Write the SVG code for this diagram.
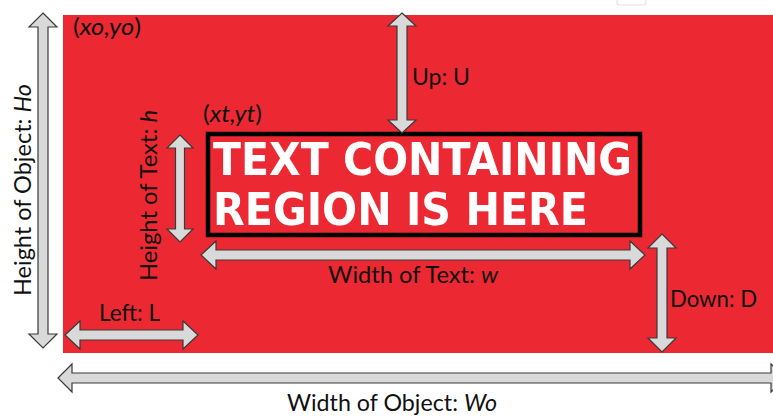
<svg xmlns="http://www.w3.org/2000/svg" width="773" height="416" viewBox="0 0 773 416">
  <style>
    .lbl { font-family: Lato, "Liberation Sans", sans-serif; font-size: 23px; fill: #111; }
    .it { font-style: italic; }
    .arrow { fill: #d9d9d9; stroke: #3a3a3a; stroke-width: 1.2; stroke-linejoin: miter; }
    .big { font-family: "DejaVu Sans", Verdana, sans-serif; font-weight: bold; font-size: 44px; fill: #ffffff; }
  </style>
  <defs>
    <filter id="glow" x="-5%" y="-20%" width="110%" height="140%">
      <feGaussianBlur stdDeviation="0.6"/>
    </filter>
  </defs>

  <rect width="773" height="416" fill="#ffffff"/>
  <!-- small tab at top edge -->
  <rect x="617" y="-4" width="29" height="9" rx="2" fill="none" stroke="#e2e2e2" stroke-width="1.2"/>

  <!-- object region -->
  <g id="object">
    <rect x="63" y="15" width="712" height="338" fill="#ec2832"/>
    <text class="lbl" x="73" y="35" textLength="68" lengthAdjust="spacingAndGlyphs">(<tspan class="it">xo,yo</tspan>)</text>
  </g>

  <!-- text-containing region -->
  <g id="text-region">
    <rect x="208" y="134" width="432" height="101" fill="none" stroke="#000" stroke-width="4.5"/>
    <g filter="url(#glow)">
      <text class="big" x="213" y="175" textLength="419" lengthAdjust="spacingAndGlyphs">TEXT CONTAINING</text>
      <text class="big" x="213" y="225" textLength="375" lengthAdjust="spacingAndGlyphs">REGION IS HERE</text>
    </g>
    <text class="lbl" x="203" y="122" textLength="59" lengthAdjust="spacingAndGlyphs">(<tspan class="it">xt,yt</tspan>)</text>
  </g>

  <!-- dimension arrows -->
  <g id="connectors">
    <!-- Ho: vertical, x=43, y 13..348 -->
    <polygon id="arrow-ho" class="arrow" points="43,13 57,27 48,27 48,334 57,334 43,348 29,334 38,334 38,27 29,27"/>
    <!-- Up: vertical, x=402, y 13..133 -->
    <polygon id="arrow-up" class="arrow" points="402,13 416,26 407,26 407,120 416,120 402,133 388,120 397,120 397,26 388,26"/>
    <!-- h: vertical, x=180, y 135..242 -->
    <polygon id="arrow-h" class="arrow" points="180,135 193,148 184.5,148 184.5,229 193,229 180,242 167,229 175.5,229 175.5,148 167,148"/>
    <!-- w: horizontal, y=255, x 201..645 -->
    <polygon id="arrow-w" class="arrow" points="201,255 216,241 216,250 630,250 630,241 645,255 630,269 630,260 216,260 216,269"/>
    <!-- D: vertical, x=662, y 234..352 -->
    <polygon id="arrow-d" class="arrow" points="662,234 676,248 667,248 667,338 676,338 662,352 648,338 657,338 657,248 648,248"/>
    <!-- L: horizontal, y=335, x 65..198 -->
    <polygon id="arrow-l" class="arrow" points="65,335 80,321 80,330 183,330 183,321 198,335 183,349 183,340 80,340 80,349"/>
    <!-- Wo: horizontal, y=378, x 58..786 -->
    <polygon id="arrow-wo" class="arrow" points="58,378 72,364 72,373 771,373 771,364 786,378 771,392 771,383 72,383 72,392"/>
  </g>

  <!-- dimension labels -->
  <g id="labels">
    <text class="lbl" x="412" y="85" textLength="58" lengthAdjust="spacingAndGlyphs">Up: U</text>
    <text class="lbl" x="328" y="283" textLength="170" lengthAdjust="spacingAndGlyphs">Width of Text: <tspan class="it">w</tspan></text>
    <text class="lbl" x="99" y="321" textLength="61" lengthAdjust="spacingAndGlyphs">Left: L</text>
    <text class="lbl" x="670" y="307" textLength="87" lengthAdjust="spacingAndGlyphs">Down: D</text>
    <text class="lbl" x="287" y="411" textLength="210" lengthAdjust="spacingAndGlyphs">Width of Object: <tspan class="it">Wo</tspan></text>
    <text class="lbl" transform="translate(157,281) rotate(-90)" textLength="171" lengthAdjust="spacingAndGlyphs">Height of Text: <tspan class="it">h</tspan></text>
    <text class="lbl" transform="translate(31,296) rotate(-90)" textLength="212" lengthAdjust="spacingAndGlyphs">Height of Object: <tspan class="it">Ho</tspan></text>
  </g>
</svg>
